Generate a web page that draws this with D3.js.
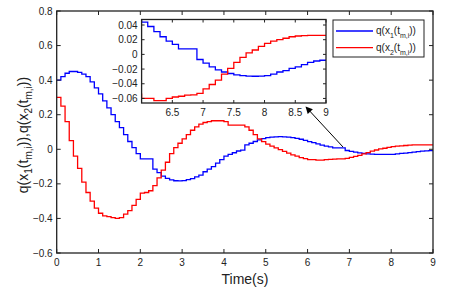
<!DOCTYPE html>
<html>
<head>
<meta charset="utf-8">
<script src="https://cdn.jsdelivr.net/npm/d3@7"></script>
<style>
  html, body { margin: 0; padding: 0; background: #fff; }
  svg { display: block; font-family: "Liberation Sans", Arial, sans-serif; }
</style>
</head>
<body>
<svg id="chart" width="454" height="290"></svg>
<script>
// ---- data ----
const times = d3.range(0, 91).map(i => +(i * 0.1).toFixed(1));
const q1 = [
  0.40, 0.42, 0.44, 0.45, 0.45, 0.445, 0.435, 0.42, 0.39, 0.355,
  0.32, 0.28, 0.24, 0.20, 0.16, 0.125, 0.085, 0.045, 0.01, -0.025,
  -0.055, -0.055, -0.055, -0.115, -0.135, -0.155, -0.168, -0.177, -0.182, -0.183,
  -0.181, -0.176, -0.17, -0.16, -0.15, -0.13, -0.115, -0.10, -0.08, -0.06,
  -0.04, -0.03, -0.02, -0.01, -0.005, 0.025, 0.035, 0.045, 0.055, 0.062,
  0.067, 0.07, 0.072, 0.073, 0.072, 0.07, 0.067, 0.063, 0.058, 0.052,
  0.044, 0.038, 0.031, 0.024, 0.018, 0.0136, 0.0076, 0.0076, 0.0076, -0.007,
  -0.012, -0.017, -0.021, -0.024, -0.026, -0.028, -0.029, -0.0295, -0.0298, -0.0295,
  -0.029, -0.027, -0.024, -0.022, -0.019, -0.017, -0.014, -0.011, -0.009, -0.008,
  -0.008
];
const q2 = [
  0.30, 0.25, 0.16, 0.05, -0.04, -0.11, -0.19, -0.25, -0.30, -0.34,
  -0.37, -0.385, -0.39, -0.395, -0.40, -0.395, -0.375, -0.355, -0.325, -0.29,
  -0.254, -0.25, -0.24, -0.21, -0.165, -0.12, -0.075, -0.025, 0.01, 0.035,
  0.06, 0.085, 0.11, 0.13, 0.145, 0.155, 0.16, 0.165, 0.165, 0.165,
  0.16, 0.14, 0.14, 0.14, 0.14, 0.13, 0.11, 0.085, 0.06, 0.044,
  0.03, 0.018, 0.008, -0.002, -0.012, -0.022, -0.032, -0.04, -0.048, -0.054,
  -0.060, -0.060, -0.063, -0.063, -0.06, -0.058, -0.057, -0.0556, -0.055, -0.053,
  -0.047, -0.041, -0.035, -0.027, -0.019, -0.011, -0.004, 0.002, 0.006, 0.011,
  0.015, 0.018, 0.020, 0.022, 0.024, 0.025, 0.0255, 0.026, 0.026, 0.026,
  0.026
];
const xTicks = [0, 1, 2, 3, 4, 5, 6, 7, 8, 9];
const yTicks = [-0.6, -0.4, -0.2, 0, 0.2, 0.4, 0.6, 0.8];
const insetXTicks = [6.5, 7, 7.5, 8, 8.5, 9];
const insetYTicks = [-0.06, -0.04, -0.02, 0, 0.02, 0.04];
const seriesNames = ["1", "2"];
const colors = ["#0000ff", "#ff0000"];

// ---- layout ----
const svg = d3.select("#chart");
const M = { left: 56.7, right: 433, top: 11, bottom: 253 };
const x = d3.scaleLinear().domain([0, 9]).range([M.left, M.right]);
const y = d3.scaleLinear().domain([-0.6, 0.8]).range([M.bottom, M.top]);

const series = [q1, q2].map(vals => times.map((t, i) => [t, vals[i]]));

function drawAxesBox(g, xs, ys, xt, yt, fmtX, fmtY, tickLen, fs) {
  const [x0, x1] = xs.range();
  const [y0, y1] = ys.range();
  // ticks inside on all sides
  xt.forEach(v => {
    const px = xs(v);
    g.append("line").attr("x1", px).attr("x2", px).attr("y1", y0).attr("y2", y0 - tickLen)
      .attr("stroke", "#222").attr("stroke-width", 1);
    g.append("line").attr("x1", px).attr("x2", px).attr("y1", y1).attr("y2", y1 + tickLen)
      .attr("stroke", "#222").attr("stroke-width", 1);
    g.append("text").attr("x", px).attr("y", y0 + fs + 3).attr("text-anchor", "middle")
      .attr("font-size", fs).attr("fill", "#222").text(fmtX(v));
  });
  yt.forEach(v => {
    const py = ys(v);
    g.append("line").attr("x1", x0).attr("x2", x0 + tickLen).attr("y1", py).attr("y2", py)
      .attr("stroke", "#222").attr("stroke-width", 1);
    g.append("line").attr("x1", x1).attr("x2", x1 - tickLen).attr("y1", py).attr("y2", py)
      .attr("stroke", "#222").attr("stroke-width", 1);
    g.append("text").attr("x", x0 - 4).attr("y", py + fs * 0.35).attr("text-anchor", "end")
      .attr("font-size", fs).attr("fill", "#222").text(fmtY(v));
  });
  g.append("rect").attr("x", x0).attr("y", y1).attr("width", x1 - x0).attr("height", y0 - y1)
    .attr("fill", "none").attr("stroke", "#222").attr("stroke-width", 1.3);
}

const fmt = v => (Math.abs(v) < 1e-9 ? "0" : d3.format("")(+v.toFixed(2)));

// main plot lines
const mainG = svg.append("g");
const line = d3.line().x(d => x(d[0])).y(d => y(d[1])).curve(d3.curveStepAfter);
series.forEach((s, i) => {
  mainG.append("path").datum(s).attr("d", line).attr("fill", "none")
    .attr("stroke", colors[i]).attr("stroke-width", 1.3);
});
drawAxesBox(mainG, x, y, xTicks, yTicks, fmt, fmt, 4, 10);

// axis labels
svg.append("text").attr("x", 245).attr("y", 284).attr("text-anchor", "middle")
  .attr("font-size", 14).attr("fill", "#222").text("Time(s)");

const ylab = svg.append("text").attr("transform", "translate(28,135) rotate(-90)")
  .attr("text-anchor", "middle").attr("font-size", 14).attr("fill", "#222");
function addLabelParts(t, n, subFs) {
  t.append("tspan").text("q(x");
  t.append("tspan").attr("font-size", subFs).attr("dy", 4).text(n);
  t.append("tspan").attr("dy", -4).text("(t");
  t.append("tspan").attr("font-size", subFs).attr("dy", 4).text("m,i");
  t.append("tspan").attr("dy", -4).text("))");
}
addLabelParts(ylab, "1", 10);
ylab.append("tspan").text(",");
addLabelParts(ylab, "2", 10);

// inset
const ix = d3.scaleLinear().domain([6, 9]).range([141.6, 326]);
const iy = d3.scaleLinear().domain([-0.0662, 0.0475]).range([103, 19.5]);
const insetG = svg.append("g");
insetG.append("rect").attr("x", 141.6).attr("y", 19.5).attr("width", 326 - 141.6).attr("height", 103 - 19.5)
  .attr("fill", "#fff");
const clip = svg.append("clipPath").attr("id", "insetclip");
clip.append("rect").attr("x", 141.6).attr("y", 19.5).attr("width", 326 - 141.6).attr("height", 103 - 19.5);
const iline = d3.line().x(d => ix(d[0])).y(d => iy(d[1])).curve(d3.curveStepAfter);
series.forEach((s, i) => {
  insetG.append("path").datum(s.filter(d => d[0] >= 5.9)).attr("d", iline).attr("fill", "none")
    .attr("clip-path", "url(#insetclip)")
    .attr("stroke", colors[i]).attr("stroke-width", 1.3);
});
drawAxesBox(insetG, ix, iy, insetXTicks, insetYTicks, fmt, fmt, 3, 10);

// legend
const lg = svg.append("g");
lg.append("rect").attr("x", 333).attr("y", 20).attr("width", 91).attr("height", 37)
  .attr("fill", "#fff").attr("stroke", "#222").attr("stroke-width", 1);
seriesNames.forEach((n, i) => {
  const ly = 31 + i * 16.7;
  lg.append("line").attr("x1", 336).attr("x2", 373).attr("y1", ly).attr("y2", ly)
    .attr("stroke", colors[i]).attr("stroke-width", 1.3);
  const t = lg.append("text").attr("x", 376).attr("y", ly + 3).attr("font-size", 10).attr("fill", "#222");
  addLabelParts(t, n, 7);
});

// arrow
const defs = svg.append("defs");
defs.append("marker").attr("id", "ah").attr("viewBox", "0 0 10 10").attr("refX", 9).attr("refY", 5)
  .attr("markerWidth", 9).attr("markerHeight", 7).attr("orient", "auto").attr("markerUnits", "userSpaceOnUse")
  .append("path").attr("d", "M0,0 L10,5 L0,10 Z").attr("fill", "#000");
svg.append("line").attr("x1", 343).attr("y1", 147).attr("x2", 306).attr("y2", 107)
  .attr("stroke", "#000").attr("stroke-width", 1).attr("marker-end", "url(#ah)");
</script>
</body>
</html>
